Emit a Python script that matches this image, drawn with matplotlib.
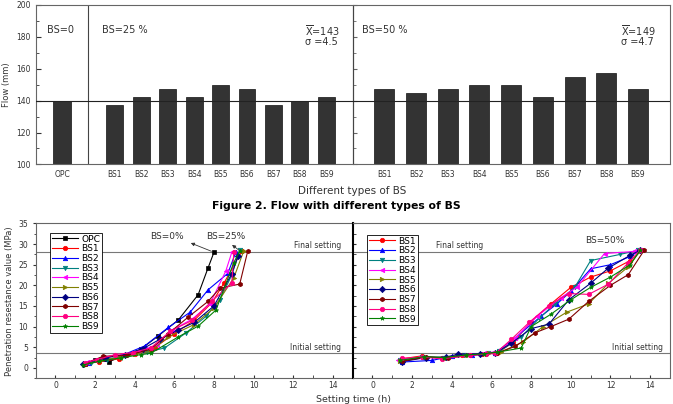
import numpy as np
import matplotlib.pyplot as plt
from matplotlib.ticker import MultipleLocator

# flow test (top panel)
bar_labels = ['BS1', 'BS2', 'BS3', 'BS4', 'BS5', 'BS6', 'BS7', 'BS8', 'BS9']
flow_opc = 140
flow_bs25 = [137.5, 142.5, 147.5, 142.5, 150, 147.5, 137.5, 140, 142.5]
flow_bs50 = [147.5, 145, 147.5, 150, 150, 142.5, 155, 157.5, 147.5]
mean_bs25, sd_bs25 = 143, 4.5
mean_bs50, sd_bs50 = 149, 4.7

# setting time (bottom panels)
names25 = ['OPC'] + bar_labels
time25 = [
    [1.5, 2.0, 2.7, 3.5, 4.3, 5.2, 6.2, 7.2, 7.7, 8.0],
    [1.5, 2.2, 3.2, 4.0, 5.0, 6.0, 7.0, 7.9, 8.5, 9.4],
    [1.7, 2.4, 3.4, 4.5, 5.7, 6.8, 7.7, 8.7, 9.1],
    [1.8, 2.6, 3.6, 4.6, 5.5, 6.6, 7.6, 8.3, 8.9, 9.3],
    [1.6, 2.4, 3.3, 4.2, 5.1, 5.9, 6.9, 7.8, 8.6, 8.9],
    [1.5, 2.3, 3.3, 4.0, 4.8, 5.7, 7.0, 8.0, 9.0, 9.5],
    [1.4, 2.5, 3.5, 4.4, 5.3, 6.2, 7.0, 8.0, 8.9, 9.2],
    [1.5, 2.4, 3.6, 4.8, 5.7, 6.7, 7.7, 8.3, 9.3, 9.7],
    [1.5, 2.1, 3.0, 3.9, 4.8, 5.8, 6.9, 7.9, 8.9, 9.0],
    [1.4, 2.2, 3.3, 4.3, 4.8, 6.2, 7.2, 8.1, 9.0, 9.3],
]
pres25 = [
    [0.9, 1.8, 1.5, 3.0, 4.5, 7.8, 11.6, 17.7, 24.2, 28.0],
    [1.0, 1.5, 2.2, 3.3, 4.9, 8.3, 11.5, 15.8, 20.5, 28.2],
    [1.2, 2.5, 3.1, 5.3, 9.8, 13.5, 18.9, 22.9, 28.0],
    [1.1, 2.0, 3.0, 3.8, 4.8, 8.5, 12.5, 16.5, 22.5, 28.5],
    [1.4, 2.6, 3.0, 4.0, 5.5, 9.2, 11.8, 15.5, 23.5, 28.0],
    [0.8, 1.8, 2.7, 3.3, 4.0, 7.5, 10.5, 14.5, 21.8, 28.3],
    [1.0, 2.4, 3.2, 4.6, 7.0, 9.2, 11.0, 15.0, 22.8, 27.0],
    [1.0, 2.8, 3.0, 4.5, 8.3, 12.3, 16.1, 19.3, 20.3, 28.2],
    [1.2, 2.0, 3.2, 3.7, 4.8, 8.9, 11.5, 16.2, 20.5, 28.0],
    [0.7, 1.6, 2.4, 3.2, 3.5, 7.5, 10.1, 14.0, 25.5, 28.3],
]
names50 = bar_labels
time50 = [
    [1.5, 2.5, 3.5, 4.5, 5.5, 6.3, 7.1, 8.0, 9.0, 10.0, 11.0, 12.0, 13.0, 13.6],
    [1.5, 3.0, 4.0, 5.0, 6.2, 7.0, 8.5, 9.3, 10.0, 11.0, 12.0, 13.0, 13.5],
    [1.4, 2.5, 3.6, 4.6, 5.8, 6.4, 7.5, 8.4, 9.2, 10.2, 11.0, 12.5, 13.4],
    [1.3, 2.4, 3.5, 4.6, 5.6, 6.3, 7.2, 8.3, 9.5, 10.3, 11.7, 13.2, 13.5],
    [1.4, 2.6, 3.7, 4.8, 5.9, 6.5, 7.6, 8.6, 9.8, 10.9, 11.9, 12.9, 13.5],
    [1.5, 2.7, 3.7, 4.3, 5.4, 6.2, 7.0, 8.0, 8.9, 9.9, 11.0, 11.9, 13.0, 13.5],
    [1.5, 2.7, 3.8, 4.9, 5.7, 6.3, 7.2, 8.2, 9.0, 9.9, 10.9, 12.0, 12.9, 13.7],
    [1.5, 2.5, 3.5, 4.9, 5.7, 6.2, 7.0, 7.9, 8.9, 9.9, 10.9, 11.9, 12.9, 13.5],
    [1.4, 2.6, 3.6, 4.7, 5.6, 6.3, 7.5, 8.0, 9.0, 10.0, 11.0, 12.0, 13.0, 13.5],
]
pres50 = [
    [2.2, 2.9, 2.3, 3.0, 3.3, 3.6, 6.2, 11.2, 15.5, 19.5, 22.0, 23.5, 26.0, 28.5],
    [1.4, 1.8, 2.8, 3.0, 3.7, 6.5, 12.5, 15.5, 18.5, 24.0, 25.0, 27.0, 28.5],
    [2.0, 2.6, 2.5, 3.2, 3.5, 4.0, 7.5, 12.0, 15.5, 19.5, 26.0, 27.5, 28.5],
    [1.9, 2.6, 2.4, 3.1, 3.6, 3.9, 7.2, 12.5, 17.0, 19.5, 27.7, 28.2, 28.5],
    [1.7, 2.6, 2.5, 3.2, 3.5, 3.9, 6.3, 10.0, 13.5, 15.5, 20.5, 24.5, 28.4],
    [1.5, 2.5, 2.6, 3.3, 3.4, 3.6, 6.0, 9.5, 10.6, 16.5, 20.5, 24.2, 27.3, 28.5],
    [1.6, 2.6, 2.4, 3.0, 3.4, 3.6, 5.2, 8.5, 10.0, 11.8, 16.1, 20.0, 22.6, 28.5],
    [2.3, 2.6, 2.2, 3.0, 3.3, 3.5, 6.9, 11.0, 15.1, 18.0, 17.8, 20.3, 25.5, 28.5],
    [1.8, 2.7, 2.5, 3.1, 3.4, 3.8, 4.8, 10.0, 13.0, 16.5, 19.5, 22.0, 25.0, 28.5],
]
final_set = 28
initial_set = 3.5

colors = {'OPC': 'black', 'BS1': '#ff0000', 'BS2': '#0000ff', 'BS3': '#008080',
          'BS4': '#ff00ff', 'BS5': '#808000', 'BS6': '#000080', 'BS7': '#800000',
          'BS8': '#ff0080', 'BS9': '#008000'}
markers = {'OPC': 's', 'BS1': 'o', 'BS2': '^', 'BS3': 'v', 'BS4': '<', 'BS5': '>',
           'BS6': 'D', 'BS7': 'h', 'BS8': 'o', 'BS9': '*'}

frame = '#666666'
fig = plt.figure(figsize=(6.73, 4.04), dpi=100)

# ---- top: flow bars
ax = fig.add_axes([0.053, 0.593, 0.942, 0.395])
opc_pos = 1.0
pos25 = 3 + np.arange(len(flow_bs25))
pos50 = 13.2 + 1.2 * np.arange(len(flow_bs50))
bar_kw = dict(color='#333333', edgecolor='#111111', linewidth=0.5, zorder=2)
ax.bar([opc_pos], [flow_opc], width=0.66, **bar_kw)
ax.bar(pos25, flow_bs25, width=0.64, **bar_kw)
ax.bar(pos50, flow_bs50, width=0.76, **bar_kw)
ax.set_xlim(0, 24)
ax.set_ylim(100, 200)
ax.axhline(flow_opc, color='#222222', lw=0.8, zorder=3)
ax.axvline(2, color='#444444', lw=0.8)
ax.axvline(12, color='#444444', lw=0.8)
for s in ax.spines.values():
    s.set_color(frame)
    s.set_linewidth(0.8)
ax.set_xticks(np.r_[opc_pos, pos25, pos50])
ax.set_xticklabels(['OPC'] + bar_labels + bar_labels, fontsize=5.5, color='#333333')
ax.tick_params(axis='x', length=0, pad=4)
ax.yaxis.set_major_locator(MultipleLocator(20))
ax.yaxis.set_minor_locator(MultipleLocator(10))
ax.tick_params(axis='y', which='both', direction='in', labelsize=5.5, colors='#333333')
ax.tick_params(axis='y', which='minor', length=2)
ax.set_ylabel('Flow (mm)', fontsize=6, color='#333333', labelpad=4)
ax.set_xlabel('Different types of BS', fontsize=7.5, color='#333333', labelpad=5)

sec = ax.secondary_yaxis(0.5)
sec.yaxis.set_major_locator(MultipleLocator(20))
sec.yaxis.set_minor_locator(MultipleLocator(10))
sec.tick_params(which='both', direction='out', labelright=False, labelleft=False,
                colors=frame, length=3)
sec.tick_params(which='minor', length=2)
for s in sec.spines.values():
    s.set_color('#444444')
    s.set_linewidth(0.8)

txt = dict(fontsize=7, color='#333333', va='center')
ax.text(0.43, 184, 'BS=0', **txt)
ax.text(2.5, 184, 'BS=25 %', **txt)
ax.text(10.2, 184, r'$\overline{\mathrm{X}}$=%d' % mean_bs25, **txt)
ax.text(10.2, 176.8, '\u03c3 =%.1f' % sd_bs25, **txt)
ax.text(12.35, 184, 'BS=50 %', **txt)
ax.text(22.15, 184, r'$\overline{\mathrm{X}}$=%d' % mean_bs50, **txt)
ax.text(22.15, 176.8, '\u03c3 =%.1f' % sd_bs50, **txt)

fig.text(0.5, 1 - 206 / 404, 'Figure 2. Flow with different types of BS',
         ha='center', va='center', fontsize=7.8, fontweight='bold')

# ---- bottom: setting time curves
axl = fig.add_axes([0.053, 0.064, 0.471, 0.383])
axr = fig.add_axes([0.524, 0.064, 0.4715, 0.383])
for a, names, tt, pp in ((axl, names25, time25, pres25), (axr, names50, time50, pres50)):
    for n, t, p in zip(names, tt, pp):
        a.plot(t, p, color=colors[n], marker=markers[n], ms=3.2, lw=0.8, label=n,
               mew=0.5, zorder=3)
    a.set_xlim(-1, 15)
    a.set_ylim(-2.5, 35)
    a.axhline(final_set, color='#777777', lw=0.8, zorder=1)
    a.axhline(initial_set, color='#777777', lw=0.8, zorder=1)
    a.xaxis.set_major_locator(MultipleLocator(2))
    a.xaxis.set_minor_locator(MultipleLocator(1))
    a.yaxis.set_major_locator(MultipleLocator(5))
    a.yaxis.set_minor_locator(MultipleLocator(2.5))
    a.tick_params(which='both', labelsize=5.5, colors='#333333')
    a.tick_params(axis='x', which='both', direction='in', length=2.5, pad=2)
    for s in a.spines.values():
        s.set_color(frame)
        s.set_linewidth(0.8)
    a.legend(loc='upper left', bbox_to_anchor=(0.045, 0.94 if a is axl else 0.926),
             fontsize=6.6, frameon=True, fancybox=False, edgecolor='black',
             borderpad=0.2, labelspacing=0.08, handlelength=2.9, handletextpad=0.3,
             borderaxespad=0.0, framealpha=1).get_frame().set_linewidth(0.6)

axl.tick_params(axis='y', which='both', direction='out', length=2)
axl.tick_params(axis='y', which='minor', length=1.5)
axl.set_ylabel('Penetration resestance value (MPa)', fontsize=6, color='#333333',
               labelpad=3)
axr.tick_params(axis='y', which='both', direction='in', length=2.5, labelleft=False)
axr.spines['left'].set_color('black')
axr.spines['left'].set_linewidth(1.5)

small = dict(fontsize=5.5, color='#333333')
axl.text(14.4, final_set + 0.5, 'Final setting', ha='right', va='bottom', **small)
axl.text(14.4, initial_set + 0.4, 'Initial setting', ha='right', va='bottom', **small)
axr.text(3.2, final_set + 0.5, 'Final setting', ha='left', va='bottom', **small)
axr.text(14.65, initial_set + 0.4, 'Initial setting', ha='right', va='bottom', **small)

arrow = dict(arrowstyle='-|>', color='#333333', lw=0.6, mutation_scale=5)
axl.annotate('', xy=(6.7, 30.5), xytext=(time25[0][-1], pres25[0][-1]), arrowprops=arrow)
axl.annotate('', xy=(8.8, 30.2), xytext=(9.35, 28.2), arrowprops=arrow)
axl.text(4.8, 31.8, 'BS=0%', fontsize=6.5, color='#333333', va='center')
axl.text(7.6, 31.8, 'BS=25%', fontsize=6.5, color='#333333', va='center')
axr.text(10.7, 30.9, 'BS=50%', fontsize=6.5, color='#333333', va='center')

fig.text(353 / 673, 0.5 / 404, 'Setting time (h)', ha='center', va='bottom',
         fontsize=6.8, color='#333333')

fig.savefig('out.png', dpi=100)
